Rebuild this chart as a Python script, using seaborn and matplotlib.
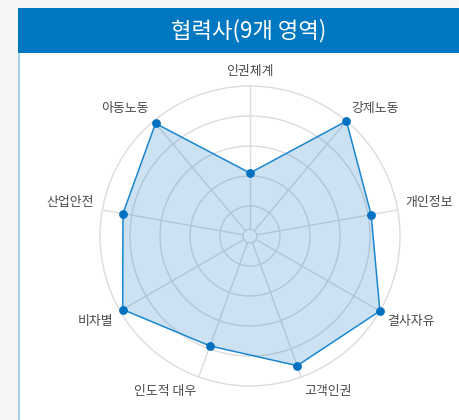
import numpy as np
import pandas as pd
import matplotlib
matplotlib.use("Agg")
import matplotlib.pyplot as plt
from matplotlib.patches import Rectangle
import seaborn as sns

# data
categories = ["인권체계", "강제노동", "개인정보", "결사자유", "고객인권",
              "인도적 대우", "비차별", "산업안전", "아동노동"]
scores = [2.1, 5.0, 4.1, 5.0, 4.6, 3.9, 4.9, 4.3, 4.9]
ring_levels = [1, 2, 3, 4, 5]
title = "협력사(9개 영역)"

sns.set_theme(style="white")
plt.rcParams["font.family"] = ["Noto Sans CJK KR", "DejaVu Sans"]

blue = "#0070c0"
line_blue = "#1a86d0"
grid_col = "#dcdcdc"

fig = plt.figure(figsize=(4.6, 4.2), dpi=100)
fig.patch.set_facecolor("#f5f7f6")
W, H = 460, 420

# panel, header and left border (figure pixel coords -> fractions)
fig.patches.append(Rectangle((20 / W, 0), 1, (H - 53) / H, transform=fig.transFigure,
                             facecolor="white", edgecolor="none", zorder=-2))
fig.patches.append(Rectangle((18 / W, 0), 2 / W, (H - 53) / H, transform=fig.transFigure,
                             facecolor="#a9cfea", edgecolor="none", zorder=-2))
fig.patches.append(Rectangle((18 / W, (H - 53) / H), 1, 45 / H, transform=fig.transFigure,
                             facecolor="#0077c1", edgecolor="none", zorder=-2))
fig.text(249 / W, (H - 31) / H, title, color="white", fontsize=16,
         ha="center", va="center")

# radar axes: center (250, 236), radius 150 px
cx, cy, R = 250, 236, 150
ax = fig.add_axes([(cx - R) / W, (H - cy - R) / H, 2 * R / W, 2 * R / H], polar=True)
ax.set_zorder(2)
ax.set_facecolor("none")
ax.set_theta_zero_location("N")
ax.set_theta_direction(-1)

n = len(categories)
angles = np.arange(n) * 2 * np.pi / n

ax.set_ylim(0, 5)
ax.set_xticks(angles)
ax.set_xticklabels([])
ax.set_yticks([])
ax.grid(False)
ax.spines["polar"].set_color(grid_col)
ax.spines["polar"].set_linewidth(1)

# rings and spokes
th = np.linspace(0, 2 * np.pi, 200)
for lv in [0.23] + ring_levels[:-1]:
    ax.plot(th, np.full_like(th, lv), color=grid_col, lw=1, zorder=1)
ax.vlines(angles, 0.23, 5, color=grid_col, lw=1, zorder=1)

# data polygon (closed at 2*pi so the last edge doesn't wrap around)
df = pd.DataFrame({"theta": list(angles) + [2 * np.pi],
                   "score": scores + [scores[0]]})
ax.fill(df["theta"], df["score"], color=blue, alpha=0.2, lw=0, zorder=2)
sns.lineplot(data=df, x="theta", y="score", sort=False, ax=ax, color=line_blue,
             lw=1.1, zorder=3)
sns.scatterplot(data=df.iloc[:-1], x="theta", y="score", ax=ax, color=blue,
                s=40, edgecolor=blue, linewidth=0, zorder=4)
for art in ax.lines[-1:] + ax.collections[-1:]:
    art.set_clip_on(False)
ax.set_xlabel("")
ax.set_ylabel("")
ax.set_ylim(0, 5)

# category labels
lab_r = 5.27
for a, name in zip(angles, categories):
    s, c = np.sin(a), np.cos(a)
    ha = "center" if abs(s) < 0.05 else ("left" if s > 0 else "right")
    va = "bottom" if c > 0.05 else ("top" if c < -0.05 else "center")
    ax.text(a, lab_r, name, ha=ha, va=va, fontsize=9.3, color="#4a4a4a",
            clip_on=False)

fig.savefig("out.png", dpi=100, facecolor=fig.get_facecolor())
